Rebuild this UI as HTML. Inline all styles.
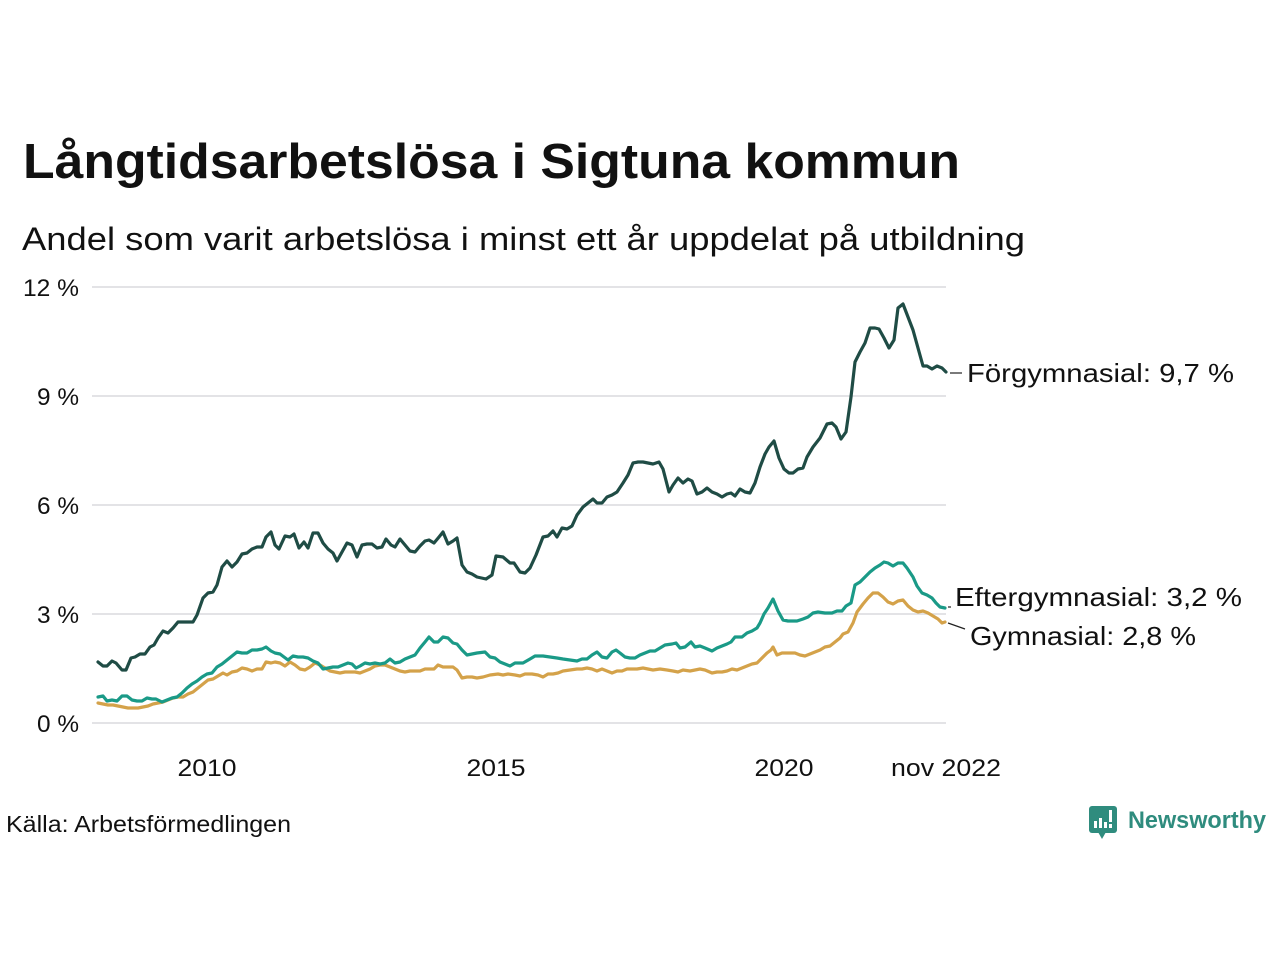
<!DOCTYPE html>
<html>
<head>
<meta charset="utf-8">
<style>
html,body{margin:0;padding:0;background:#fff;}
svg{display:block;}
text{font-family:"Liberation Sans",sans-serif;fill:#111;}
</style>
</head>
<body>
<svg width="1280" height="960" viewBox="0 0 1280 960" xmlns="http://www.w3.org/2000/svg">
<rect width="1280" height="960" fill="#fff"/>
<text x="23" y="178" font-size="49" font-weight="bold" textLength="937" lengthAdjust="spacingAndGlyphs">Långtidsarbetslösa i Sigtuna kommun</text>
<text x="22" y="250" font-size="32" fill="#222" textLength="1003" lengthAdjust="spacingAndGlyphs">Andel som varit arbetslösa i minst ett år uppdelat på utbildning</text>

<g stroke="#e3e3e6" stroke-width="2">
<line x1="92" y1="287" x2="946" y2="287"/>
<line x1="92" y1="396" x2="946" y2="396"/>
<line x1="92" y1="505" x2="946" y2="505"/>
<line x1="92" y1="614" x2="946" y2="614"/>
<line x1="92" y1="723" x2="946" y2="723"/>
</g>
<g font-size="24" text-anchor="end" fill="#222">
<text x="79" y="296" textLength="56" lengthAdjust="spacingAndGlyphs">12 %</text>
<text x="79" y="405" textLength="42" lengthAdjust="spacingAndGlyphs">9 %</text>
<text x="79" y="514" textLength="42" lengthAdjust="spacingAndGlyphs">6 %</text>
<text x="79" y="623" textLength="42" lengthAdjust="spacingAndGlyphs">3 %</text>
<text x="79" y="732" textLength="42" lengthAdjust="spacingAndGlyphs">0 %</text>
</g>
<g font-size="24" text-anchor="middle" fill="#222">
<text x="207" y="776" textLength="59" lengthAdjust="spacingAndGlyphs">2010</text>
<text x="496" y="776" textLength="59" lengthAdjust="spacingAndGlyphs">2015</text>
<text x="784" y="776" textLength="59" lengthAdjust="spacingAndGlyphs">2020</text>
<text x="946" y="776" textLength="110" lengthAdjust="spacingAndGlyphs">nov 2022</text>
</g>

<g fill="none" stroke-width="3.2" stroke-linejoin="round" stroke-linecap="round">
<polyline stroke="#d4a24a" points="98,703 103,704 108,705 113,705 118,706 123,707 128,708 133,708 138,708 143,707 148,706 153,704 158,703 163,702 168,700 173,698 178,697 183,697 188,694 193,692 198,688 203,684 208,680 213,679 218,676 223,673 227,675 232,672 237,671 242,668 247,669 252,671 257,669 262,669 266,662 271,663 275,662 280,663 285,666 290,662 295,665 300,669 305,670 310,667 315,663 320,665 325,668 330,671 335,672 340,673 345,672 350,672 355,672 360,673 365,671 370,669 375,666 380,665 385,665 390,667 395,669 400,671 405,672 410,671 415,671 420,671 425,669 430,669 434,669 438,665 443,667 448,667 453,667 457,670 462,678 467,677 472,677 477,678 483,677 490,675 498,674 503,675 508,674 515,675 520,676 525,674 532,674 538,675 543,677 548,674 553,674 558,673 563,671 570,670 577,669 582,669 587,668 592,669 597,671 602,669 607,671 612,673 617,671 622,671 627,669 632,669 637,669 643,668 648,669 653,670 660,669 667,670 673,671 678,672 683,670 690,671 695,670 700,669 705,670 712,673 717,672 722,672 727,671 732,669 737,670 742,668 747,666 752,664 757,663 762,658 767,653 771,650 773,647 777,655 782,653 788,653 795,653 800,655 805,656 810,654 815,652 820,650 825,647 830,646 835,642 840,638 843,634 848,632 853,623 857,612 863,604 868,598 873,593 878,593 883,597 888,602 893,604 898,601 903,600 908,606 913,610 918,612 923,611 928,613 933,616 938,619 942,623 945,622"/>
<polyline stroke="#1a9a87" points="98,697 103,696 107,701 112,700 117,701 122,696 127,696 132,700 137,701 142,701 147,698 152,699 156,699 162,702 167,700 172,698 177,697 182,693 187,688 192,684 197,681 202,677 207,674 212,673 217,667 222,664 227,660 232,656 237,652 242,653 247,653 252,650 257,650 262,649 266,647 271,651 275,653 280,654 284,657 288,660 293,656 298,657 303,657 308,658 313,661 318,663 323,669 328,668 333,667 338,667 343,665 348,663 352,664 356,668 360,666 365,663 370,664 375,663 380,664 385,663 390,659 395,663 400,662 405,659 410,657 415,655 420,648 425,642 429,637 434,642 438,642 443,637 448,638 453,643 457,644 462,650 467,655 472,654 477,653 485,652 490,657 495,658 500,662 505,664 510,666 515,663 523,663 530,659 535,656 543,656 550,657 557,658 563,659 570,660 577,661 582,659 587,659 592,655 597,652 602,657 607,658 612,652 616,650 620,653 625,657 630,658 635,658 640,655 645,653 650,651 655,651 660,648 665,645 672,644 676,643 680,648 685,647 691,642 695,647 700,646 705,648 712,651 717,648 722,646 727,644 731,642 735,637 742,637 747,633 752,631 757,628 760,623 764,614 768,608 773,599 778,611 783,620 788,621 797,621 803,619 808,617 813,613 818,612 825,613 832,613 837,611 842,611 846,606 851,603 855,585 860,582 865,577 870,572 875,568 880,565 884,562 888,563 893,566 898,563 903,563 907,568 913,577 917,586 922,593 927,595 932,598 936,603 940,607 945,608"/>
<polyline stroke="#1f4c45" points="98,662 103,666 107,666 112,661 116,663 122,670 126,670 131,658 135,657 140,654 145,654 150,647 154,645 158,638 163,631 168,633 173,628 178,622 183,622 193,622 197,615 203,598 208,593 213,592 217,585 222,567 227,561 232,567 237,562 242,554 247,553 252,549 257,547 262,547 266,537 271,532 275,545 279,549 285,536 290,537 294,534 299,548 304,542 308,548 313,533 318,533 323,543 328,549 333,553 337,561 342,552 347,543 352,545 357,557 362,545 367,544 372,544 377,548 382,547 386,539 391,545 395,547 400,539 405,545 410,551 415,552 420,546 425,541 429,540 434,543 439,537 443,532 448,544 453,541 457,538 462,565 467,572 472,574 477,577 486,579 492,575 496,556 503,557 510,563 514,563 520,572 525,573 530,568 536,555 543,537 548,536 553,531 557,537 562,528 567,529 572,526 577,515 583,507 588,503 593,499 597,503 602,503 607,497 612,495 617,492 623,483 628,475 633,463 638,462 643,462 648,463 653,464 659,462 663,469 669,492 673,485 678,478 683,483 688,479 692,481 697,494 702,492 707,488 712,492 717,494 722,497 727,494 731,493 735,496 740,489 745,492 750,493 755,483 760,467 765,454 769,447 774,441 779,458 784,469 789,473 793,473 798,469 803,468 807,457 813,447 820,438 823,432 827,424 832,423 836,427 841,439 846,432 851,397 855,362 860,352 865,343 870,328 875,328 879,329 884,338 889,348 894,340 898,308 903,304 908,317 913,330 918,348 923,366 927,366 932,369 937,366 942,368 946,372"/>
</g>

<g stroke="#222" stroke-width="1.2">
<line x1="950" y1="373" x2="962" y2="373"/>
<line x1="948" y1="607" x2="951" y2="607"/>
<line x1="948" y1="623" x2="965" y2="629"/>
</g>
<g font-size="26" fill="#111">
<text x="967" y="382" textLength="267" lengthAdjust="spacingAndGlyphs">Förgymnasial: 9,7 %</text>
<text x="955" y="606" textLength="287" lengthAdjust="spacingAndGlyphs">Eftergymnasial: 3,2 %</text>
<text x="970" y="645" textLength="226" lengthAdjust="spacingAndGlyphs">Gymnasial: 2,8 %</text>
</g>

<text x="6" y="832" font-size="23" fill="#222" textLength="285" lengthAdjust="spacingAndGlyphs">Källa: Arbetsförmedlingen</text>

<g>
<rect x="1089" y="806" width="28" height="27" rx="3" fill="#2f8c7e"/>
<polygon points="1098,832 1106,832 1102,839" fill="#2f8c7e"/>
<rect x="1094" y="821" width="3" height="7" fill="#fff"/>
<rect x="1099" y="818" width="3" height="10" fill="#fff"/>
<rect x="1104" y="822" width="3" height="6" fill="#fff"/>
<rect x="1109" y="810" width="3" height="12" fill="#fff"/>
<rect x="1109" y="824" width="3" height="4" fill="#fff"/>
<text x="1128" y="828" font-size="24" font-weight="bold" fill="#2f8c7e" textLength="138" lengthAdjust="spacingAndGlyphs" style="fill:#2f8c7e">Newsworthy</text>
</g>
</svg>
</body>
</html>
